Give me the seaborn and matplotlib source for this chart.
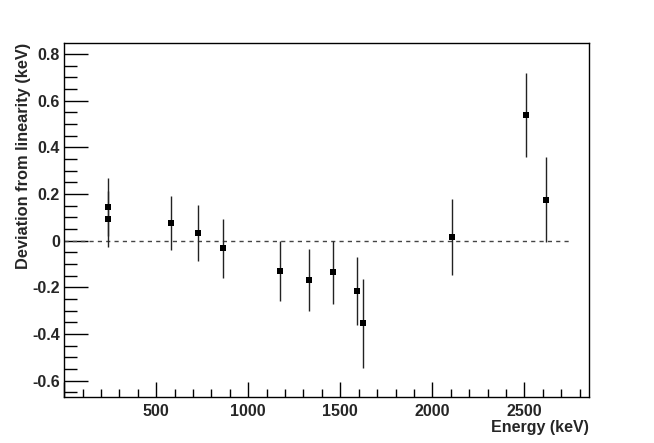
import numpy as np
import pandas as pd
import matplotlib
matplotlib.use("Agg")
import matplotlib.pyplot as plt
import matplotlib.ticker as mticker
import seaborn as sns

# gamma line energies (keV) and deviation from linear calibration (keV)
energy = [239, 239, 583, 727, 861, 1173, 1332, 1461, 1593, 1621, 2104, 2506, 2615]
deviation = [0.143, 0.092, 0.075, 0.033, -0.033, -0.131, -0.168, -0.136, -0.216, -0.354, 0.017, 0.540, 0.176]
error = [0.125, 0.120, 0.117, 0.119, 0.126, 0.130, 0.133, 0.135, 0.147, 0.190, 0.163, 0.180, 0.183]
ref_line_x = [0, 2750]

df = pd.DataFrame({"energy": energy, "deviation": deviation, "error": error})

sns.set_style("ticks")
plt.rcParams["font.family"] = ["Liberation Sans", "DejaVu Sans"]
plt.rcParams["font.weight"] = "bold"

fig = plt.figure(figsize=(6.54, 4.43), dpi=100)
ax = fig.add_axes([0.098, 0.104, 0.8025, 0.799])

ax.plot(ref_line_x, [0, 0], color="#444444", lw=1.0, ls=(0, (3, 3)), zorder=1)
ax.errorbar(df["energy"], df["deviation"], yerr=df["error"], fmt="none",
            ecolor="#222222", elinewidth=1.0, capsize=0, zorder=2)
sns.scatterplot(data=df, x="energy", y="deviation", marker="s", s=18,
                color="black", edgecolor="black", linewidth=0, ax=ax, zorder=3)

ax.set_xlim(0, 2850)
ax.set_ylim(-0.67, 0.847)

ax.xaxis.set_major_locator(mticker.MultipleLocator(500))
ax.xaxis.set_minor_locator(mticker.MultipleLocator(100))
ax.yaxis.set_major_locator(mticker.MultipleLocator(0.2))
ax.yaxis.set_minor_locator(mticker.MultipleLocator(0.05))
ax.xaxis.set_major_formatter(mticker.FuncFormatter(lambda v, p: "" if v == 0 else f"{v:g}"))
ax.yaxis.set_major_formatter(mticker.FuncFormatter(lambda v, p: f"{round(v, 2):g}"))

fs = 11.5
ax.tick_params(which="both", direction="in", top=False, right=False, color="black", width=1)
ax.tick_params(axis="y", which="major", length=17, labelsize=fs, pad=3)
ax.tick_params(axis="y", which="minor", length=9)
ax.tick_params(axis="x", which="major", length=11, labelsize=fs, pad=5)
ax.tick_params(axis="x", which="minor", length=6)
for sp in ax.spines.values():
    sp.set_visible(True)
    sp.set_color("black")
    sp.set_linewidth(1.0)

ax.set_xlabel("Energy (keV)", fontsize=fs, fontweight="bold", loc="right", labelpad=1)
ax.set_ylabel("Deviation from linearity (keV)", fontsize=11.8, fontweight="bold", loc="top", labelpad=1)

fig.savefig("out.png", dpi=100)
